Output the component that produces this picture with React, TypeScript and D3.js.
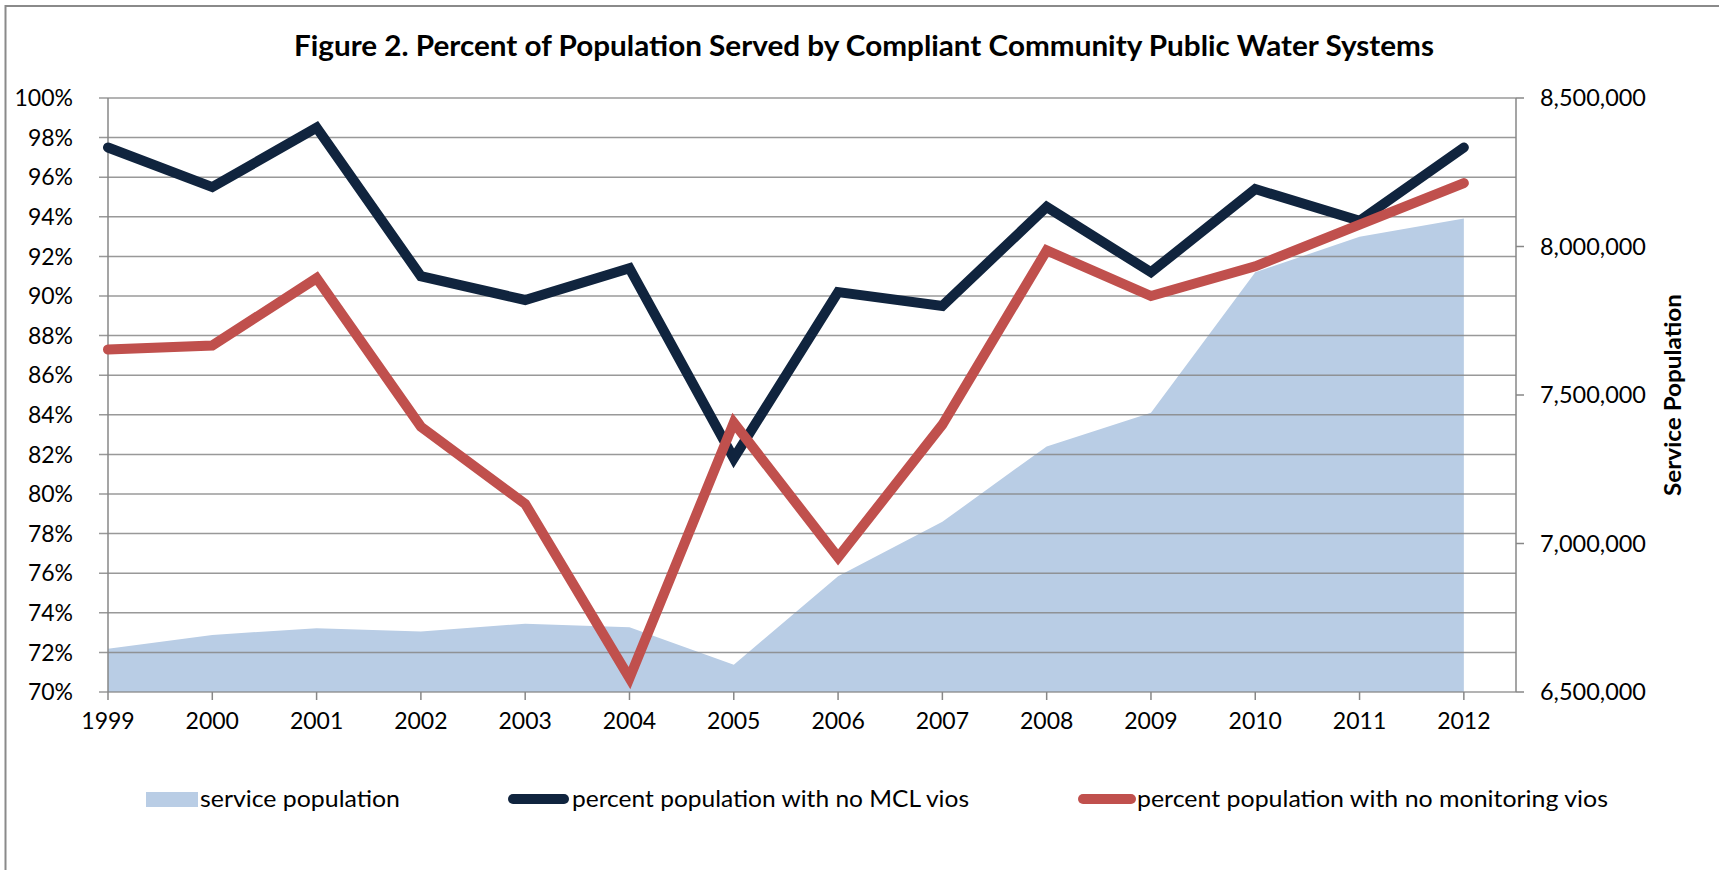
import React from 'react';
import * as d3 from 'd3';

// chart data
const years = ['1999', '2000', '2001', '2002', '2003', '2004', '2005', '2006', '2007', '2008', '2009', '2010', '2011', '2012'];
const servicePopulation = [6646000, 6692000, 6715000, 6704000, 6730000, 6718000, 6592000, 6890000, 7073000, 7327000, 7440000, 7913000, 8033000, 8094000];
const noMclVios = [0.975, 0.955, 0.985, 0.910, 0.898, 0.914, 0.818, 0.902, 0.895, 0.945, 0.912, 0.954, 0.938, 0.975];
const noMonitoringVios = [0.873, 0.875, 0.909, 0.834, 0.795, 0.707, 0.836, 0.768, 0.835, 0.923, 0.900, 0.915, 0.936, 0.957];
const leftTicks = [0.70, 0.72, 0.74, 0.76, 0.78, 0.80, 0.82, 0.84, 0.86, 0.88, 0.90, 0.92, 0.94, 0.96, 0.98, 1.00];
const rightTicks = [6500000, 7000000, 7500000, 8000000, 8500000];

const W = 1719;
const H = 870;
const FONT = 'Lato, "Open Sans", sans-serif';
const AREA = '#b9cde5';
const NAVY = '#10243e';
const RED = '#c0504d';
const GRID = '#878787';

const App: React.FC = () => {
  const left = 108;
  const right = 1516;
  const top = 98;
  const bottom = 692;

  const x = d3.scaleLinear().domain([0, years.length - 0.5]).range([left, right]);
  const yL = d3.scaleLinear().domain([0.7, 1.0]).range([bottom, top]);
  const yR = d3.scaleLinear().domain([6500000, 8500000]).range([bottom, top]);

  const area = d3.area<number>()
    .x((_, i) => x(i))
    .y0(bottom)
    .y1(d => yR(d));
  const line = d3.line<number>()
    .x((_, i) => x(i))
    .y(d => yL(d));

  const pct = d3.format('.0%');
  const num = d3.format(',');

  return (
    <svg width={W} height={H} style={{ position: 'absolute', left: 0, top: 0, background: '#fff' }} fontFamily={FONT}>
      {/* chart frame */}
      <rect x={5.5} y={6} width={1800} height={1000} fill="#fff" stroke="#8a8a8a" strokeWidth={2} />

      <text x={864} y={56} textAnchor="middle" fontSize={28} fontWeight="bold" fill="#000"
        textLength={1140} lengthAdjust="spacingAndGlyphs">
        Figure 2. Percent of Population Served by Compliant Community Public Water Systems
      </text>

      {/* service population area (secondary axis) */}
      <path d={area(servicePopulation) || ''} fill={AREA} />

      {/* gridlines */}
      {leftTicks.map(t => (
        <line key={t} x1={left - 9} x2={right} y1={yL(t)} y2={yL(t)} stroke={GRID} strokeWidth={1.5} strokeOpacity={0.85} />
      ))}

      {/* axes */}
      <line x1={left} x2={left} y1={top} y2={bottom} stroke={GRID} strokeWidth={1.5} />
      <line x1={right} x2={right} y1={top} y2={bottom} stroke={GRID} strokeWidth={1.5} />
      {years.map((y, i) => (
        <g key={y}>
          <line x1={x(i)} x2={x(i)} y1={bottom} y2={bottom + 8} stroke={GRID} strokeWidth={1.5} />
          <text x={x(i)} y={729} textAnchor="middle" fontSize={23} fill="#000">{y}</text>
        </g>
      ))}
      {leftTicks.map(t => (
        <text key={t} x={73} y={yL(t)} dy="0.36em" textAnchor="end" fontSize={23} fill="#000">{pct(t)}</text>
      ))}
      {rightTicks.map(t => (
        <g key={t}>
          <line x1={right} x2={right + 8} y1={yR(t)} y2={yR(t)} stroke={GRID} strokeWidth={1.5} />
          <text x={1540} y={yR(t)} dy="0.36em" fontSize={23} fill="#000"
            textLength={106} lengthAdjust="spacingAndGlyphs">{num(t)}</text>
        </g>
      ))}
      <text transform="translate(1681,395) rotate(-90)" textAnchor="middle" fontSize={23} fontWeight="bold" fill="#000"
        textLength={202} lengthAdjust="spacingAndGlyphs">
        Service Population
      </text>

      {/* lines */}
      <path d={line(noMclVios) || ''} fill="none" stroke={NAVY} strokeWidth={10} strokeLinejoin="miter" strokeLinecap="round" />
      <path d={line(noMonitoringVios) || ''} fill="none" stroke={RED} strokeWidth={10} strokeLinejoin="miter" strokeLinecap="round" />

      {/* legend */}
      <rect x={146} y={792} width={52} height={15} fill={AREA} />
      <text x={200} y={807} fontSize={23} fill="#000" textLength={200} lengthAdjust="spacingAndGlyphs">service population</text>
      <line x1={513} x2={564} y1={799} y2={799} stroke={NAVY} strokeWidth={10} strokeLinecap="round" />
      <text x={572} y={807} fontSize={23} fill="#000" textLength={397} lengthAdjust="spacingAndGlyphs">percent population with no MCL vios</text>
      <line x1={1083} x2={1131} y1={799} y2={799} stroke={RED} strokeWidth={10} strokeLinecap="round" />
      <text x={1137} y={807} fontSize={23} fill="#000" textLength={471} lengthAdjust="spacingAndGlyphs">percent population with no monitoring vios</text>
    </svg>
  );
};

export default App;
